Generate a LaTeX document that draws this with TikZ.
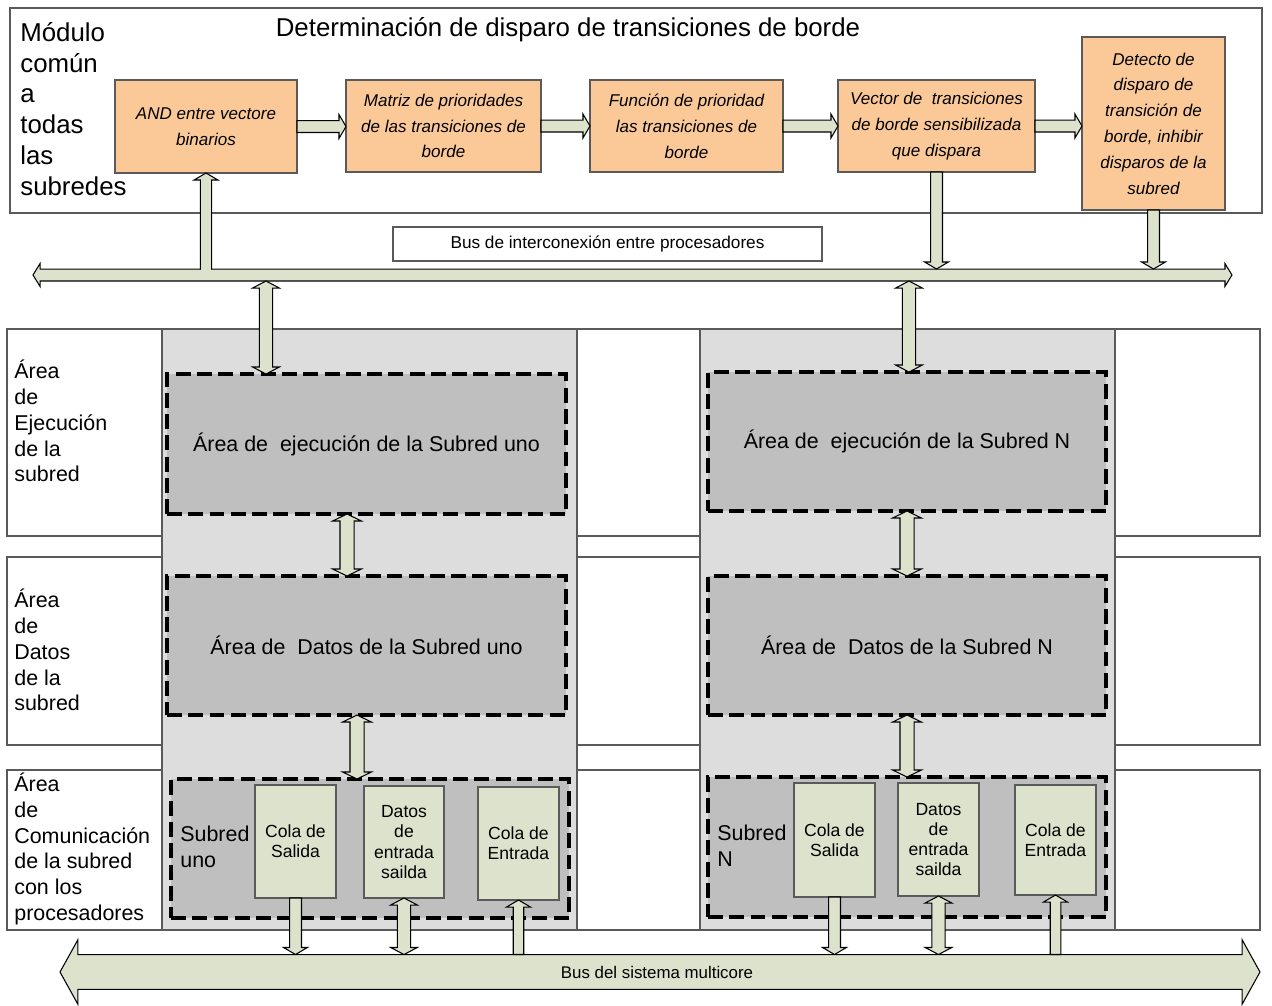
\documentclass[tikz,border=0pt]{standalone}
\usepackage{fontspec}
\setmainfont{Liberation Sans}
\usetikzlibrary{calc}

\definecolor{orangebox}{RGB}{251,201,152}
\definecolor{arfill}{RGB}{221,226,204}
\definecolor{colgray}{RGB}{221,221,221}
\definecolor{areagray}{RGB}{191,191,191}
\definecolor{edgegray}{RGB}{90,90,90}

% fat block arrows between two points: shaft half width, head half width, head length
\newcommand\arsetup[2]{%
  \path let \p1=(#1), \p2=(#2),
        \n1={veclen(\x2-\x1,\y2-\y1)}, \n2={atan2(\y2-\y1,\x2-\x1)} in
        \pgfextra{\xdef\arlen{\n1}\xdef\arang{\n2}\xdef\arx{\x1}\xdef\ary{\y1}};}
\newcommand\onearrow[5]{\arsetup{#1}{#2}%
  \begin{scope}[shift={(\arx,\ary)},rotate=\arang]
    \filldraw[fatarrow] (0pt,-#3) -- ({\arlen-#5},-#3) -- ({\arlen-#5},-#4)
      -- ({\arlen+0pt},0pt) -- ({\arlen-#5},#4) -- ({\arlen-#5},#3) -- (0pt,#3) -- cycle;
  \end{scope}}
\newcommand\twoarrow[5]{\arsetup{#1}{#2}%
  \begin{scope}[shift={(\arx,\ary)},rotate=\arang]
    \filldraw[fatarrow] (0pt,0pt) -- (#5,#4) -- (#5,#3) -- ({\arlen-#5},#3) -- ({\arlen-#5},#4)
      -- ({\arlen+0pt},0pt) -- ({\arlen-#5},-#4) -- ({\arlen-#5},-#3) -- (#5,-#3) -- (#5,-#4) -- cycle;
  \end{scope}}

\tikzset{
  fatarrow/.style={fill=arfill, draw=black, line width=0.6pt, line join=miter},
  frame/.style={draw=edgegray, line width=0.8pt, fill=white, inner sep=0pt, outer sep=0pt},
  stage/.style={draw=edgegray, line width=0.8pt, fill=orangebox, inner sep=0pt, outer sep=0pt,
    align=center, font=\fontsize{9.7}{14.7}\selectfont\itshape},
  column/.style={draw=edgegray, line width=0.8pt, fill=colgray, inner sep=0pt, outer sep=0pt,
    minimum width=8.3cm, minimum height=12.02cm},
  area/.style={draw=black, line width=1.9pt, dash pattern=on 8.5pt off 3.6pt, fill=areagray,
    inner sep=0pt, outer sep=0pt, minimum width=7.98cm, minimum height=2.8cm,
    font=\fontsize{12.2}{14.7}\selectfont},
  queue/.style={draw=edgegray, line width=0.8pt, fill=arfill, inner sep=0pt, outer sep=0pt,
    minimum width=1.62cm, minimum height=2.26cm, align=center,
    font=\fontsize{10}{11.5}\selectfont},
  rowlabel/.style={anchor=west, align=left, inner sep=0pt, font=\fontsize{12.2}{14.7}\selectfont},
}

\begin{document}
\begin{tikzpicture}[x=0.02cm,y=-0.02cm]
\useasboundingbox (0,0) rectangle (1272,1005);
\fill[white] (0,0) rectangle (1272,1005);

% ---------- common module ----------
\node[frame, minimum width=25.04cm, minimum height=4.1cm] (mod) at (636,110.5) {};
\node[font=\fontsize{14.7}{17.6}\selectfont, inner sep=0pt] (title) at (568,30)
  {Determinación de disparo de transiciones de borde};
\node[anchor=west, align=left, inner sep=0pt, font=\fontsize{14.7}{17.6}\selectfont] (modlabel) at (20,109)
  {Módulo\\común\\a\\todas\\las\\subredes};

\node[stage, minimum width=3.64cm, minimum height=1.86cm] (o1) at (206,126.5)
  {AND entre vectore\\binarios};
\node[stage, minimum width=3.9cm, minimum height=1.84cm] (o2) at (443.5,126)
  {Matriz de prioridades\\de las transiciones de\\borde};
\node[stage, minimum width=3.86cm, minimum height=1.84cm] (o3) at (686.5,126)
  {Función de prioridad\\las transiciones de\\borde};
\node[stage, minimum width=3.94cm, minimum height=1.84cm] (o4) at (936.5,126)
  {Vector de~ transiciones\\de borde sensibilizada\\que dispara};
\node[stage, minimum width=2.86cm, minimum height=3.46cm] (o5) at (1153.5,123.5)
  {Detecto de\\disparo de\\transición de\\borde, inhibir\\disparos de la\\subred};

\onearrow{o1.east}{o1.east -| o2.west}{3.4pt}{6.8pt}{4pt}
\onearrow{o2.east}{o2.east -| o3.west}{3.4pt}{6.8pt}{4pt}
\onearrow{o3.east}{o3.east -| o4.west}{3.4pt}{6.8pt}{4pt}
\onearrow{o4.east}{o4.east -| o5.west}{3.4pt}{6.8pt}{4pt}

% ---------- interconnection bus ----------
\node[draw=edgegray, line width=0.8pt, minimum width=8.58cm, minimum height=0.68cm, inner sep=0pt,
  font=\fontsize{9.8}{11}\selectfont] (buslabel) at (607.5,244) {Bus de interconexión entre procesadores};

\coordinate (busL) at (33,275);
\coordinate (busR) at (1232,275);
\coordinate (bustop) at (0,269);
\coordinate (busbot) at (0,281);

% ---------- rows ----------
\node[frame, minimum width=25.06cm, minimum height=4.14cm] (row1) at (633.5,432.5) {};
\node[frame, minimum width=25.06cm, minimum height=3.76cm] (row2) at (633.5,651) {};
\node[frame, minimum width=25.06cm, minimum height=3.2cm] (row3) at (633.5,850) {};
\node[rowlabel] (lab1) at (14,421) {Área\\de\\Ejecución\\de la\\subred};
\node[rowlabel] (lab2) at (14,650) {Área\\de\\Datos\\de la\\subred};
\node[rowlabel] (lab3) at (14,849) {Área\\de\\Comunicación\\de la subred\\con los\\procesadores};

% ---------- processor columns ----------
\node[column] (c1) at (369.5,629.5) {};
\node[column] (c2) at (907.5,629.5) {};

\node[area] (e1) at (366.5,444) {Área de~ ejecución de la Subred uno};
\node[area, minimum height=2.78cm] (d1) at (366.5,645.5) {Área de~ Datos de la Subred uno};
\node[area, minimum width=7.96cm, minimum height=2.78cm] (m1) at (370,848.5) {};
\node[area, minimum width=7.96cm, minimum height=2.78cm] (e2) at (907,441.5) {Área de~ ejecución de la Subred N};
\node[area, minimum width=7.96cm, minimum height=2.78cm] (d2) at (907,645.5) {Área de~ Datos de la Subred N};
\node[area, minimum width=7.96cm, minimum height=2.8cm] (m2) at (907,847) {};

\node[rowlabel] (sub1) at (180,847) {Subred\\uno};
\node[rowlabel] (sub2) at (717,846) {Subred\\N};

\node[queue] (s1) at (295.5,841.5) {Cola de\\Salida};
\node[queue, minimum width=1.6cm, minimum height=2.24cm] (io1) at (404,842) {Datos\\de\\entrada\\sailda};
\node[queue] (in1) at (518.5,843.5) {Cola de\\Entrada};
\node[queue, minimum height=2.28cm] (s2) at (834.5,840) {Cola de\\Salida};
\node[queue] (io2) at (938.5,839.5) {Datos\\de\\entrada\\sailda};
\node[queue, minimum height=2.2cm] (in2) at (1055.5,840) {Cola de\\Entrada};

% ---------- interconnection bus and its links ----------
\twoarrow{busL}{busR}{3.4pt}{6.5pt}{4pt}
\onearrow{o1.south |- bustop}{o1.south}{3.2pt}{6.8pt}{4pt}
\fill[arfill] ($(o1.south |- bustop)+(-5.1,-1.5)$) rectangle ($(o1.south |- bustop)+(5.1,2)$);
\onearrow{o4.south}{o4.south |- bustop}{3.4pt}{6.8pt}{4pt}
\onearrow{o5.south}{o5.south |- bustop}{3.4pt}{6.8pt}{4pt}

\coordinate (up1) at (266,281);
\coordinate (up2) at (909,281);
\twoarrow{up1}{up1 |- e1.north}{3.8pt}{7.6pt}{4pt}
\twoarrow{up2}{up2 |- e2.north}{3.8pt}{7.6pt}{4pt}

\coordinate (v1) at (347,0);
\coordinate (v2) at (357,0);
\coordinate (v3) at (907,0);
\twoarrow{v1 |- e1.south}{v1 |- d1.north}{4pt}{8.2pt}{4pt}
\twoarrow{v2 |- d1.south}{v2 |- m1.north}{4pt}{8.2pt}{4pt}
\twoarrow{v3 |- e2.south}{v3 |- d2.north}{4pt}{8.2pt}{4pt}
\twoarrow{v3 |- d2.south}{v3 |- m2.north}{4pt}{8.2pt}{4pt}

% ---------- multicore system bus ----------
\coordinate (mbL) at (60,972);
\coordinate (mbR) at (1260,972);
\coordinate (mbtop) at (0,954.5);
\twoarrow{mbL}{mbR}{9.9pt}{18.4pt}{10.2pt}
\node[font=\fontsize{9.6}{11}\selectfont, inner sep=0pt] (mbus) at (657,972) {Bus del sistema multicore};

\onearrow{s1.south}{s1.south |- mbtop}{3.4pt}{6.8pt}{4pt}
\twoarrow{io1.south}{io1.south |- mbtop}{3.8pt}{7.6pt}{4pt}
\onearrow{in1.south |- mbtop}{in1.south}{3pt}{6.8pt}{4pt}
\onearrow{s2.south}{s2.south |- mbtop}{3.4pt}{6.8pt}{4pt}
\twoarrow{io2.south}{io2.south |- mbtop}{3.8pt}{7.6pt}{4pt}
\onearrow{in2.south |- mbtop}{in2.south}{3pt}{6.8pt}{4pt}
\end{tikzpicture}
\end{document}
